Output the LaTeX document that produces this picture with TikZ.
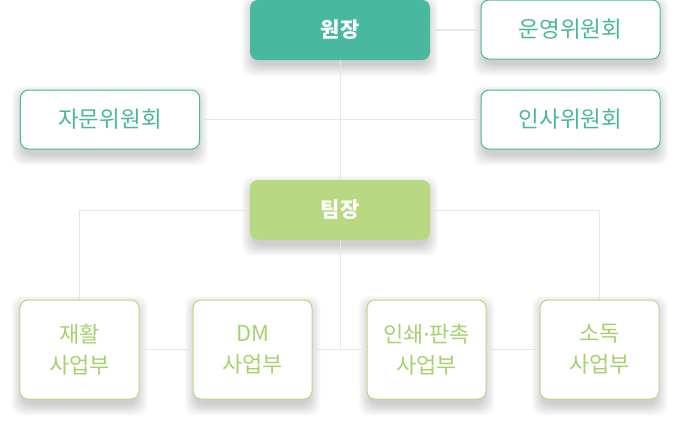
\documentclass[tikz,border=0pt]{standalone}
\usepackage{fontspec}
\setmainfont{Noto Sans CJK KR}
\newfontfamily\latinfont{Noto Sans}
\usetikzlibrary{positioning, calc}
\usetikzlibrary{backgrounds}
\definecolor{teal1}{HTML}{48B89E}
\definecolor{green1}{HTML}{B8D982}
\definecolor{green2}{HTML}{A6D26E}
\definecolor{line1}{HTML}{E6E6E6}
\tikzset{
    headbox/.style = {rounded corners=8bp, minimum width=180bp, minimum height=60bp, inner sep=0pt, text=white, font=\fontsize{21bp}{24bp}\selectfont\bfseries},
    committee/.style = {draw=teal1, line width=1bp, fill=white, rounded corners=8bp, minimum width=179bp, minimum height=59bp, inner sep=0pt, text=teal1, font=\fontsize{22.5bp}{24bp}\selectfont},
    division/.style = {draw=green1, line width=1bp, fill=white, rounded corners=8bp, minimum width=119bp, minimum height=99bp, inner sep=0pt, align=center, text=green2, font=\fontsize{22bp}{31bp}\selectfont},
    link/.style = {draw=line1, line width=1bp}
}
\newcommand{\boxshadow}[1] {
    \foreach \r in {0,...,11}
        \fill[black, opacity=0.016, rounded corners=10bp] ($(#1.south west)+(-\r+3,-\r-5)$) rectangle ($(#1.north east)+(\r-3,\r-7)$);
}

\begin{document}
\begin{tikzpicture}[x=1bp, y=1bp]
                \useasboundingbox (0,0) rectangle (680,-420);
                \node[headbox, fill=teal1] (wonjang) at (340,-30) {원장};
                \node[committee] (unyeong) at (570.5,-29.5) {운영위원회};
                \node[committee] (jamun) at (110,-119.5) {자문위원회};
                \node[committee] (insa) at (570.5,-119.5) {인사위원회};
                \node[headbox, fill=green1] (timjang) at (340,-210) {팀장};
                \node[division] (jaehwal) at (79.5,-349.5) {재활\\사업부};
                \node[division] (dm) at (252.5,-349.5) {DM\\사업부};
                \node[division] (inswae) at (426.5,-349.5) {인쇄{\latinfont ·}판촉\\사업부};
                \node[division] (sodok) at (599.5,-349.5) {소독\\사업부};
                \coordinate (hub) at (timjang |- jaehwal);
                \begin{scope}[on background layer]
                \fill[white] (0,0) rectangle (680,-420);
                \foreach \n in {wonjang,unyeong,jamun,insa,timjang,jaehwal,dm,inswae,sodok}
                    \boxshadow{\n}
                \draw[link] (wonjang.east) -- (unyeong.west);
                \draw[link] (jamun.east) -- (insa.west);
                \draw[link] (wonjang.south) -- (timjang.north);
                \draw[link] (timjang.west) -| (jaehwal.north);
                \draw[link] (timjang.east) -| (sodok.north);
                \draw[link] (timjang.south) -- (hub);
                \draw[link] (jaehwal.east) -- (sodok.west);
                \end{scope}
            \end{tikzpicture}
\end{document}
